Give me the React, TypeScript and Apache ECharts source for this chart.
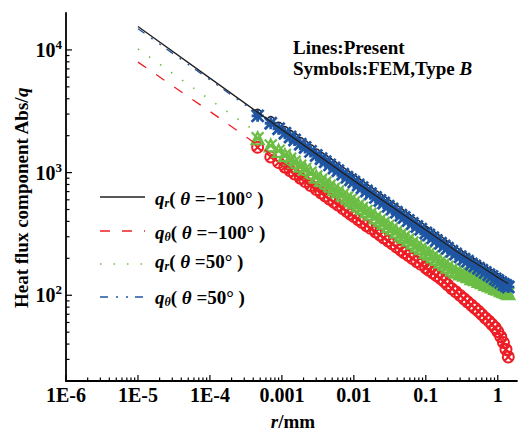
import React, { useEffect, useRef } from 'react';
import * as echarts from 'echarts';

// ---------- data ----------
// symbol (FEM) radial positions, mm
const rSym = [4.6e-4, 7e-4, 9e-4, 1.1e-3, 1.3e-3, 1.5e-3, 1.8e-3, 2.1e-3, 2.5e-3, 3e-3,
  3.5e-3, 4e-3, 4.6e-3, 5.3e-3, 6e-3, 7e-3, 8e-3, 9e-3, 0.01, 0.0115,
  0.013, 0.015, 0.017, 0.02, 0.023, 0.026, 0.03, 0.034, 0.039, 0.045,
  0.05, 0.057, 0.065, 0.075, 0.085, 0.1, 0.11, 0.125, 0.14, 0.16,
  0.18, 0.2, 0.23, 0.26, 0.3, 0.34, 0.38, 0.43, 0.48, 0.54,
  0.6, 0.67, 0.75, 0.83, 0.92, 1.0, 1.1, 1.2, 1.3, 1.4];

// FEM q_r (theta = -100 deg)
const femQrNeg100 = [3070, 2680, 2410, 2220, 2070, 1950, 1810, 1700, 1580, 1460,
  1370, 1300, 1225, 1157, 1097, 1029, 973, 928, 888, 838,
  797, 750, 713, 666, 629, 598, 563, 535, 505, 476,
  456, 430, 408, 385, 366, 341, 329, 312, 297, 281,
  267, 257, 242, 230, 218, 209, 200, 191, 183, 176,
  170, 162, 156, 151, 144, 140, 135, 130, 127, 124];
// FEM q_theta (theta = -100 deg)
const femQtNeg100 = [1610, 1342, 1208, 1110, 1035, 974, 902, 846, 786, 728,
  682, 645, 608, 573, 544, 510, 482, 459, 439, 414,
  393, 370, 352, 328, 310, 294, 277, 263, 248, 233,
  223, 211, 200, 188, 179, 167, 160, 152, 145, 137,
  130, 122, 113, 107, 99.5, 93.6, 88.4, 83.2, 78.5, 74.1,
  69.7, 65.3, 61.7, 57.9, 54.5, 50.6, 46, 41.2, 36.2, 31.4];
// FEM q_r (theta = 50 deg)
const femQr50 = [1905, 1665, 1506, 1389, 1298, 1225, 1139, 1071, 998, 927,
  872, 826, 781, 738, 702, 660, 625, 597, 571, 540,
  514, 486, 462, 432, 409, 389, 367, 350, 330, 312,
  299, 284, 269, 254, 242, 226, 218, 207, 198, 188,
  179, 171, 162, 156, 151, 147, 143, 138, 135, 131,
  128, 124, 121, 118, 115, 113, 110, 108, 106, 104];
// FEM q_theta (theta = 50 deg)
const femQt50 = [2900, 2525, 2276, 2094, 1954, 1841, 1706, 1600, 1489, 1380,
  1294, 1225, 1156, 1091, 1035, 971, 918, 875, 838, 791,
  752, 708, 673, 628, 593, 564, 531, 505, 476, 449,
  430, 406, 385, 363, 345, 322, 310, 294, 280, 265,
  252, 242, 228, 217, 206, 197, 189, 180, 173, 166,
  160, 153, 147, 142, 136, 132, 127, 123, 120, 117];

// present solution (lines)
const rLine = [1e-5, 1e-4, 1e-3, 0.01, 0.1, 0.3, 0.6, 1, 1.4];
const lineQrNeg100 = [15500, 5890, 2240, 860, 340, 218, 170, 140, 124];
const lineQtNeg100 = [7950, 3150, 1220, 450, 168, 99.5, 69.7, 50.6, 31.4];
const lineQr50 = [10190, 3930, 1540, 575, 226, 151, 128, 113, 104];
const lineQt50 = [14900, 5700, 2180, 836, 322, 206, 160, 132, 117];

// axes
const xDecades = [1e-6, 1e-5, 1e-4, 1e-3, 1e-2, 0.1, 1];
const xTickLabels = ['1E-6', '1E-5', '1E-4', '0.001', '0.01', '0.1', '1'];
const yDecades = [10, 100, 1000, 10000];
const yMajorTicks = [100, 1000, 10000];
const minorMultipliers = [2, 3, 4, 5, 6, 7, 8, 9];
const X_MIN = 1e-6, X_MAX = 1.85, Y_MIN = 20, Y_MAX = 20000;

// legend / texts
const legendSubs = ['r', 'θ', 'r', 'θ'];
const legendAngles = ['−100°', '−100°', '50°', '50°'];
const noteLine1 = 'Lines:Present';
const noteLine2a = 'Symbols:FEM,Type ';
const noteLine2b = 'B';
const yTitleA = 'Heat flux component Abs/';
const yTitleB = 'q';
const xTitleA = 'r';
const xTitleB = '/mm';

// ---------- styles ----------
const FONT = 'Liberation Serif';
const C_BLACK = '#231f20';
const C_RED = '#ee1d25';
const C_GREEN = '#6cbd45';
const C_BLUE = '#1f56a3';
const DASH_RED = [10, 12];
const DASH_GREEN = [1.5, 12];
const DASH_BLUE = [8, 8, 2, 8, 2, 7];

const SYM_RED = 'path://M10,5A5,5,0,1,1,0,5A5,5,0,1,1,10,5ZM1.6,1.6L8.4,8.4M8.4,1.6L1.6,8.4';
const SYM_GREEN = 'path://M5,0L10,10L0,10ZM0,0L10,10M10,0L0,10';
const SYM_BLUE = 'path://M0,0L10,10M10,0L0,10M5,0L5,10M0,5L10,5';

const pairs = (xs: number[], ys: number[]) => xs.map((x, i) => [x, ys[i]]);

function buildOption() {
  const xTickData: number[][] = [];
  xDecades.forEach((d) => {
    xTickData.push([d, Y_MIN, 6]);
    minorMultipliers.forEach((m) => {
      const v = d * m;
      if (v < X_MAX) xTickData.push([v, Y_MIN, 3.5]);
    });
  });
  const yTickData: number[][] = [];
  yMajorTicks.forEach((v) => yTickData.push([X_MIN, v, 6]));
  yDecades.forEach((d) => {
    minorMultipliers.forEach((m) => {
      const v = d * m;
      if (v > Y_MIN && v < Y_MAX) yTickData.push([X_MIN, v, 3.5]);
    });
  });

  const bold19 = { fontFamily: FONT, fontWeight: 'bold', fontSize: 19, fill: '#000', lineHeight: 22 };
  const boldIt19 = { ...bold19, fontStyle: 'italic' };

  const legendStyles = [
    { color: C_BLACK, dash: undefined as number[] | undefined, lineY: 197, textY: 198, w: 1.5 },
    { color: C_RED, dash: DASH_RED, lineY: 231, textY: 232, w: 1.3 },
    { color: C_GREEN, dash: DASH_GREEN, lineY: 264, textY: 261, w: 1.6 },
    { color: C_BLUE, dash: DASH_BLUE, lineY: 297, textY: 297, w: 1.3 },
  ];

  const graphic: any[] = [];
  legendStyles.forEach((s, i) => {
    graphic.push({
      type: 'line',
      shape: { x1: 100, y1: s.lineY, x2: 145, y2: s.lineY },
      style: { stroke: s.color, lineWidth: s.w, lineDash: s.dash },
    });
    graphic.push({
      type: 'text',
      x: 155,
      y: s.textY,
      style: {
        text: `{q|q}{s|${legendSubs[i]}}{n|(}{t| θ}{n| =${legendAngles[i]} )}`,
        ...bold19,
        verticalAlign: 'middle',
        align: 'left',
        rich: {
          q: boldIt19,
          s: { fontFamily: FONT, fontWeight: 'bold', fontStyle: 'italic', fontSize: 12, fill: '#000', lineHeight: 12, verticalAlign: 'bottom' },
          n: bold19,
          t: boldIt19,
        },
      },
    });
  });

  graphic.push({
    type: 'text', x: 293, y: 47,
    style: { text: noteLine1, ...bold19, verticalAlign: 'middle', align: 'left' },
  });
  graphic.push({
    type: 'text', x: 293, y: 68,
    style: {
      text: `{n|${noteLine2a}}{i|${noteLine2b}}`, ...bold19, verticalAlign: 'middle', align: 'left',
      rich: { n: bold19, i: boldIt19 },
    },
  });
  graphic.push({
    type: 'text', x: 21, y: 198, rotation: Math.PI / 2,
    style: {
      text: `{n|${yTitleA}}{i|${yTitleB}}`, ...bold19, verticalAlign: 'middle', align: 'center',
      rich: { n: bold19, i: boldIt19 },
    },
  });
  graphic.push({
    type: 'text', x: 293, y: 421,
    style: {
      text: `{i|${xTitleA}}{n|${xTitleB}}`, ...bold19, lineHeight: 19, verticalAlign: 'middle', align: 'center',
      rich: { n: { ...bold19, lineHeight: 19 }, i: { ...boldIt19, lineHeight: 19 } },
    },
  });

  const lineSeries = (data: number[][], color: string, type: any, width: number) => ({
    type: 'line', data, symbol: 'none', silent: true, clip: false,
    lineStyle: { color, type, width },
  });
  const symSeries = (data: number[][], symbol: string, size: number, color: string, bw: number, fill = 'rgba(0,0,0,0)') => ({
    type: 'scatter', data, symbol, symbolSize: size, silent: true,
    itemStyle: { color: fill, borderColor: color, borderWidth: bw, opacity: 1 },
  });

  return {
    animation: false,
    backgroundColor: '#fff',
    grid: { left: 66, top: 13, right: 1, bottom: 50, containLabel: false },
    xAxis: {
      type: 'log', logBase: 10, min: X_MIN, max: X_MAX,
      axisLine: { show: true, onZero: false, lineStyle: { color: '#000', width: 1.8 } },
      axisTick: { show: false },
      splitLine: { show: false },
      axisLabel: {
        margin: 4, color: '#000', fontFamily: FONT, fontWeight: 'bold', fontSize: 20, lineHeight: 20,
        formatter: (v: number) => {
          const l = Math.log10(v);
          const e = Math.round(l);
          if (Math.abs(l - e) > 0.01) return '';
          return xTickLabels[e + 6] ?? '';
        },
      },
    },
    yAxis: {
      type: 'log', logBase: 10, min: Y_MIN, max: Y_MAX,
      axisLine: { show: true, onZero: false, lineStyle: { color: '#000', width: 1.8 } },
      axisTick: { show: false },
      splitLine: { show: false },
      axisLabel: {
        margin: 4, color: '#000',
        formatter: (v: number) => {
          const l = Math.log10(v);
          const e = Math.round(l);
          if (Math.abs(l - e) > 0.01) return '';
          return `{b|10}{s|${e}}`;
        },
        rich: {
          b: { fontFamily: FONT, fontWeight: 'bold', fontSize: 20, color: '#000', lineHeight: 24 },
          s: { fontFamily: FONT, fontWeight: 'bold', fontSize: 13, color: '#000', lineHeight: 12, verticalAlign: 'top' },
        },
      },
    },
    graphic,
    series: [
      lineSeries(pairs(rLine, lineQtNeg100), C_RED, DASH_RED, 1.3),
      lineSeries(pairs(rLine, lineQr50), C_GREEN, DASH_GREEN, 1.6),
      lineSeries(pairs(rLine, lineQt50), C_BLUE, DASH_BLUE, 1.3),
      lineSeries(pairs(rLine, lineQrNeg100), C_BLACK, 'solid', 1.3),
      symSeries(pairs(rSym, femQtNeg100), SYM_RED, 11, C_RED, 2),
      symSeries(pairs(rSym, femQr50), SYM_GREEN, 12, C_GREEN, 2.2),
      symSeries(pairs(rSym, femQrNeg100), 'circle', 7, C_BLACK, 1.5, '#fff'),
      symSeries(pairs(rSym, femQt50), SYM_BLUE, 12, C_BLUE, 2.8),
      {
        type: 'custom', data: xTickData, silent: true, clip: false, z: 10,
        encode: { x: 0, y: 1 },
        renderItem: (params: any, api: any) => {
          const p = api.coord([api.value(0), api.value(1)]);
          const len = api.value(2);
          return { type: 'line', shape: { x1: p[0], y1: p[1], x2: p[0], y2: p[1] - len }, style: { stroke: '#000', lineWidth: 1.2 } };
        },
      },
      {
        type: 'custom', data: yTickData, silent: true, clip: false, z: 10,
        encode: { x: 0, y: 1 },
        renderItem: (params: any, api: any) => {
          const p = api.coord([api.value(0), api.value(1)]);
          const len = api.value(2);
          return { type: 'line', shape: { x1: p[0], y1: p[1], x2: p[0] + len, y2: p[1] }, style: { stroke: '#000', lineWidth: 1.2 } };
        },
      },
    ],
  };
}

export default function App() {
  const ref = useRef<HTMLDivElement>(null);
  useEffect(() => {
    const chart = echarts.init(ref.current as HTMLDivElement, null, { renderer: 'svg' });
    chart.setOption(buildOption() as any);
    return () => chart.dispose();
  }, []);
  return (
    <div
      ref={ref}
      style={{ position: 'fixed', left: 0, top: 0, width: 520, height: 431, background: '#fff' }}
    />
  );
}
